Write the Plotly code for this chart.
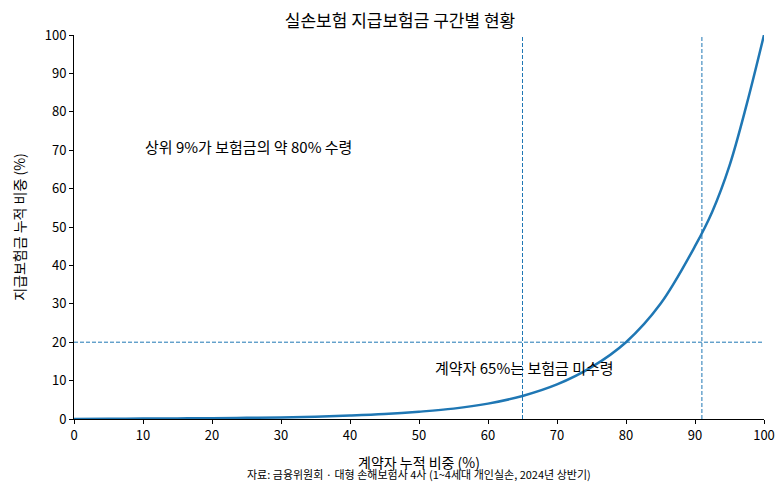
import plotly.graph_objects as go

# 계약자 누적 비중 (%) / 지급보험금 누적 비중 (%)
contract_share = [0, 5, 10, 15, 20, 25, 30, 35, 40, 45, 50, 55, 60, 65, 70, 75, 80, 85, 90, 92.5, 95, 97.5, 100]
claim_share = [0, 0.05, 0.1, 0.15, 0.2, 0.3, 0.4, 0.6, 0.9, 1.3, 1.9, 2.7, 4.0, 6.0, 9.0, 13.5, 20.0, 30.0, 45.0, 54.0, 66.0, 82.0, 100.0]

vlines = [65, 91]
hline = 20

font = "Noto Sans CJK KR"
blue = "#1f77b4"

fig = go.Figure()
fig.add_trace(go.Scatter(x=contract_share, y=claim_share, mode="lines",
                         line=dict(color=blue, width=2.5, shape="spline"),
                         showlegend=False, hoverinfo="skip"))

for v in vlines:
    fig.add_vline(x=v, line=dict(color=blue, width=1, dash="4px,2px"))
fig.add_hline(y=hline, line=dict(color=blue, width=1, dash="4px,2px"))

fig.add_annotation(x=10, y=71, text="상위 9%가 보험금의 약 80% 수령", showarrow=False,
                   xanchor="left", font=dict(size=15, color="black"))
fig.add_annotation(x=52, y=13.5, text="계약자 65%는 보험금 미수령", showarrow=False,
                   xanchor="left", font=dict(size=15, color="black"))
fig.add_annotation(x=0.5, y=-0.17, xref="paper", yref="paper",
                   text="자료: 금융위원회 · 대형 손해보험사 4사 (1~4세대 개인실손, 2024년 상반기)",
                   showarrow=False, font=dict(size=11, color="black"))

axis_common = dict(range=[0, 100], dtick=10, showgrid=False, zeroline=False,
                   showline=True, linecolor="black", linewidth=1,
                   ticks="outside", ticklen=4, tickcolor="black",
                   tickfont=dict(size=13, color="black"))

fig.update_layout(
    width=784, height=502,
    plot_bgcolor="white", paper_bgcolor="white",
    font=dict(family=font, color="black"),
    title=dict(text="실손보험 지급보험금 구간별 현황", x=0.5, xanchor="center",
               y=0.985, font=dict(size=17)),
    margin=dict(l=58, r=28, t=27, b=91),
    xaxis=dict(title=dict(text="계약자 누적 비중 (%)", font=dict(size=14)), **axis_common),
    yaxis=dict(title=dict(text="지급보험금 누적 비중 (%)", font=dict(size=14)), **axis_common),
)

fig.write_html("out.html")
